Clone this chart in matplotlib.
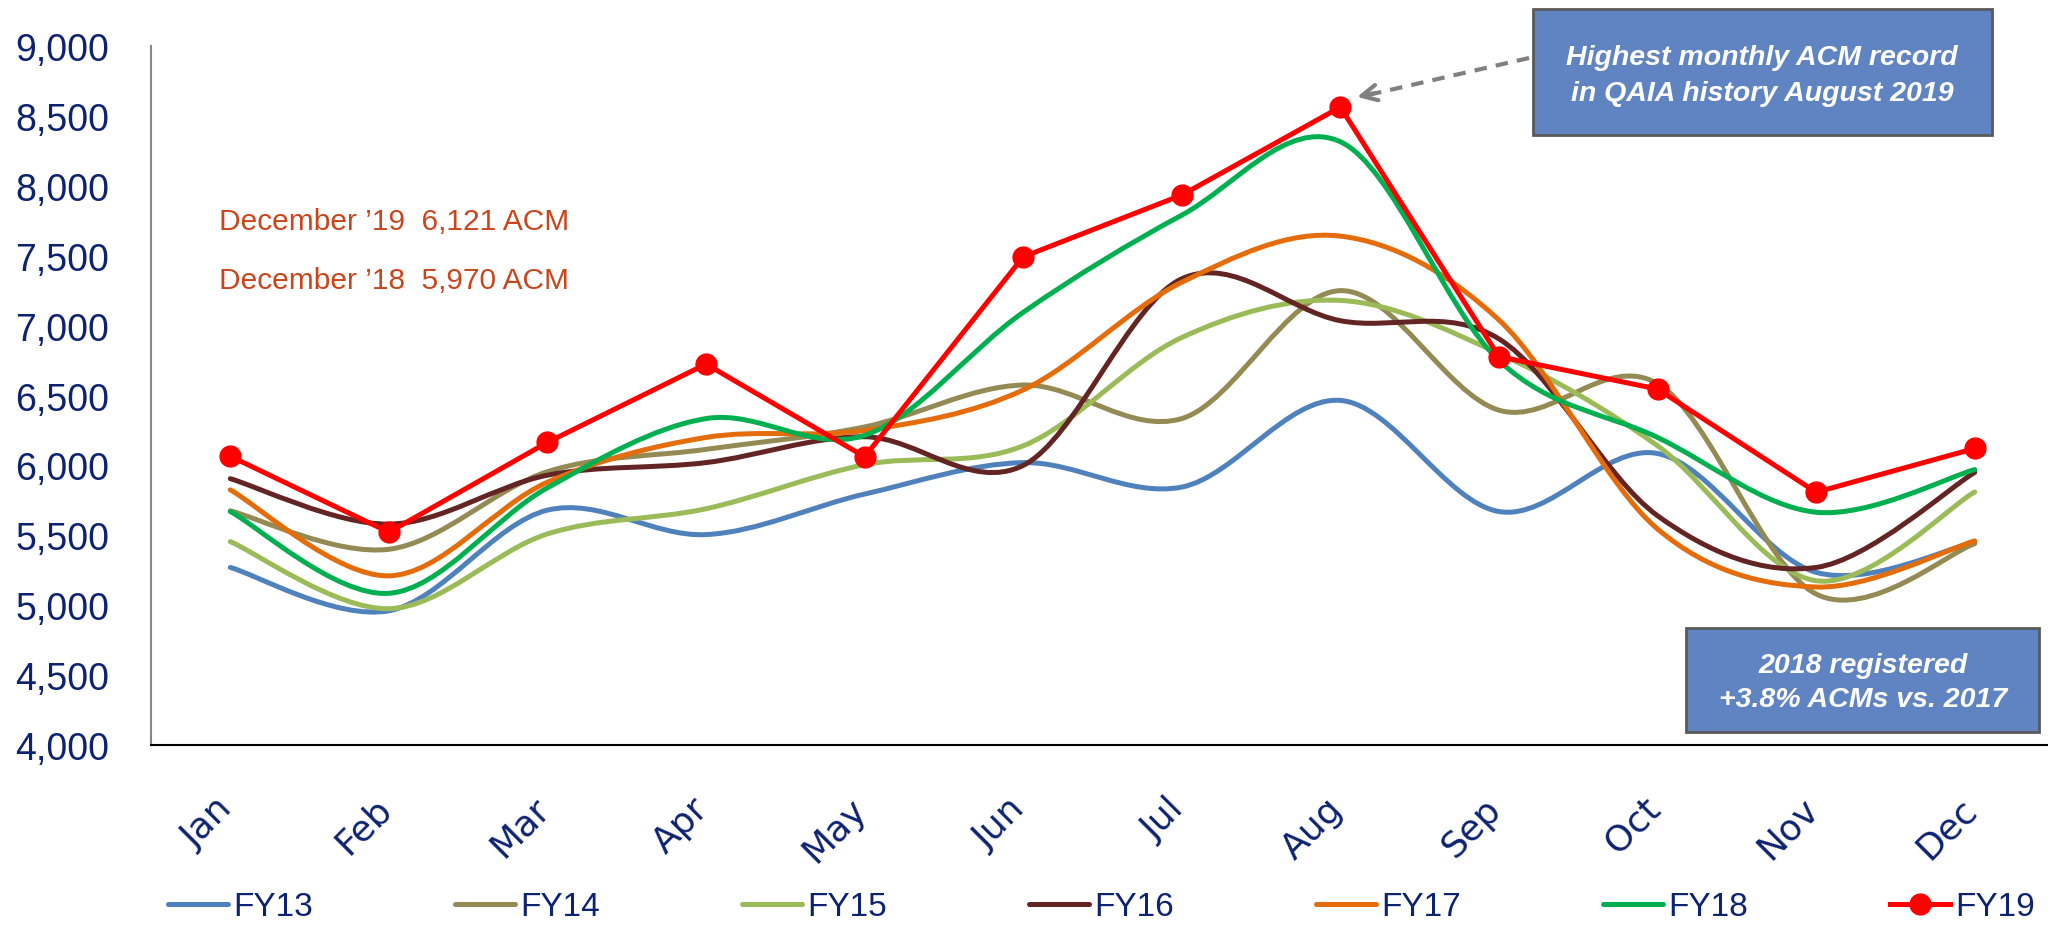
import matplotlib
matplotlib.use("Agg")
import matplotlib.pyplot as plt
from matplotlib.path import Path
from matplotlib.patches import PathPatch, Rectangle
from matplotlib.lines import Line2D
import matplotlib.transforms as mtransforms

months = ["Jan", "Feb", "Mar", "Apr", "May", "Jun", "Jul", "Aug", "Sep", "Oct", "Nov", "Dec"]
fy13 = [5270, 4960, 5680, 5505, 5795, 6020, 5845, 6465, 5670, 6085, 5235, 5450]
fy14 = [5675, 5400, 5955, 6115, 6275, 6575, 6335, 7250, 6395, 6585, 5080, 5440]
fy15 = [5455, 4975, 5510, 5690, 6005, 6140, 6915, 7180, 6800, 6140, 5175, 5810]
fy16 = [5905, 5580, 5930, 6020, 6205, 6000, 7335, 7035, 6905, 5640, 5270, 5950]
fy17 = [5825, 5210, 5880, 6200, 6250, 6540, 7310, 7640, 7040, 5545, 5130, 5460]
fy18 = [5670, 5085, 5840, 6335, 6215, 7095, 7790, 8315, 6750, 6200, 5665, 5970]
fy19 = [6065, 5522, 6165, 6725, 6062, 7492, 7934, 8563, 6778, 6546, 5808, 6121]
series_names = ["FY13", "FY14", "FY15", "FY16", "FY17", "FY18", "FY19"]
yticks = [4000, 4500, 5000, 5500, 6000, 6500, 7000, 7500, 8000, 8500, 9000]

colors = ["#4F81BD", "#948A54", "#9BBB59", "#632523", "#E46C0A", "#00B050", "#FF0000"]
NAVY = "#0D2270"
W, H = 2048, 937

fig = plt.figure(figsize=(W / 100, H / 100), dpi=100)
def fx(px): return px / W
def fy(py): return 1 - py / H

ax = fig.add_axes([fx(151), fy(746), fx(2054) - fx(151), fy(47) - fy(746)])
ax.set_xlim(-0.5, 11.5)
ax.set_ylim(4000, 9000)


def smooth_path(xs, ys):
    n = len(xs)
    verts = [(xs[0], ys[0])]
    codes = [Path.MOVETO]
    for i in range(n - 1):
        p0 = i - 1 if i > 0 else i
        p3 = i + 2 if i + 2 < n else i + 1
        c1 = (xs[i] + (xs[i + 1] - xs[p0]) / 6, ys[i] + (ys[i + 1] - ys[p0]) / 6)
        c2 = (xs[i + 1] - (xs[p3] - xs[i]) / 6, ys[i + 1] - (ys[p3] - ys[i]) / 6)
        verts += [c1, c2, (xs[i + 1], ys[i + 1])]
        codes += [Path.CURVE4] * 3
    return Path(verts, codes)


xs = list(range(len(months)))
LW = 3.6
smooth_series = [fy13, fy14, fy15, fy16, fy17, fy18]
for vals, c in zip(smooth_series, colors[:6]):
    patch = PathPatch(smooth_path(xs, vals), facecolor="none", edgecolor=c, lw=LW,
                      capstyle="round", joinstyle="round", zorder=2)
    ax.add_patch(patch)

ax.plot(xs, fy19, color=colors[6], lw=LW, marker="o", ms=15, zorder=3,
        solid_capstyle="round")

# axes styling
for s in ["top", "right"]:
    ax.spines[s].set_visible(False)
ax.spines["left"].set_color("#868686")
ax.spines["left"].set_linewidth(1.5)
ax.spines["bottom"].set_color("black")
ax.spines["bottom"].set_linewidth(1.5)

ax.set_yticks(yticks)
ax.set_yticklabels([f"{v:,}" for v in yticks], fontsize=27, color=NAVY,
                   fontfamily="Liberation Sans")
ax.tick_params(axis="y", length=0, pad=30)
ax.set_xticks(xs)
ax.set_xticklabels(months, rotation=45, ha="right", va="top", fontsize=26,
                   color=NAVY, fontfamily="DejaVu Sans")
ax.tick_params(axis="x", length=0, pad=33)
offset = mtransforms.ScaledTranslation(9 / 100, 0, fig.dpi_scale_trans)
for lab in ax.get_xticklabels():
    lab.set_transform(lab.get_transform() + offset)

# December annotations
TXT_RED = "#C9461D"
fig.text(fx(219), fy(222), "December \u201919  6,121 ACM", fontsize=21.5, color=TXT_RED,
         ha="left", va="center", fontfamily="Liberation Sans")
fig.text(fx(219), fy(281), "December \u201918  5,970 ACM", fontsize=21.5, color=TXT_RED,
         ha="left", va="center", fontfamily="Liberation Sans")

# boxes
BOX = "#6083C1"
EDGE = "#5A5A5A"
fig.add_artist(Rectangle((fx(1533), fy(136)), fx(1992) - fx(1533), fy(10) - fy(136),
                         transform=fig.transFigure, facecolor=BOX, edgecolor=EDGE, lw=2, zorder=5))
fig.text(fx(1762), fy(58), "Highest monthly ACM record", fontsize=20.5, color="white",
         fontweight="bold", fontstyle="italic", ha="center", va="center", zorder=6,
         fontfamily="Liberation Sans")
fig.text(fx(1762), fy(94), "in QAIA history August 2019", fontsize=20.5, color="white",
         fontweight="bold", fontstyle="italic", ha="center", va="center", zorder=6,
         fontfamily="Liberation Sans")

fig.add_artist(Rectangle((fx(1686), fy(733)), fx(2039) - fx(1686), fy(629) - fy(733),
                         transform=fig.transFigure, facecolor=BOX, edgecolor=EDGE, lw=2, zorder=5))
fig.text(fx(1863), fy(666), "2018 registered", fontsize=20.5, color="white",
         fontweight="bold", fontstyle="italic", ha="center", va="center", zorder=6,
         fontfamily="Liberation Sans")
fig.text(fx(1863), fy(700), "+3.8% ACMs vs. 2017", fontsize=20.5, color="white",
         fontweight="bold", fontstyle="italic", ha="center", va="center", zorder=6,
         fontfamily="Liberation Sans")

# dashed arrow
GRAY = "#808080"
fig.add_artist(Line2D([fx(1529), fx(1368)], [fy(59), fy(96)], transform=fig.transFigure,
                      color=GRAY, lw=3, linestyle=(0, (3, 2.2))))
ax.annotate("", xy=(fx(1357), fy(98)), xycoords="figure fraction",
            xytext=(fx(1375), fy(94)), textcoords="figure fraction",
            arrowprops=dict(arrowstyle="->", color=GRAY, lw=3, mutation_scale=28,
                            shrinkA=0, shrinkB=0))

# legend
handles = [Line2D([], [], color=c, lw=LW, solid_capstyle="round") for c in colors[:6]]
handles.append(Line2D([], [], color=colors[6], lw=LW, marker="o", ms=15))
fig.legend(handles, series_names, loc="center left", bbox_to_anchor=(fx(168), fy(908)),
           ncol=7, frameon=False, borderpad=0, borderaxespad=0, handlelength=1.8,
           handletextpad=0.15, columnspacing=4.27,
           prop={"family": "Liberation Sans", "size": 24}, labelcolor=NAVY)

fig.savefig("out.png", dpi=100)
